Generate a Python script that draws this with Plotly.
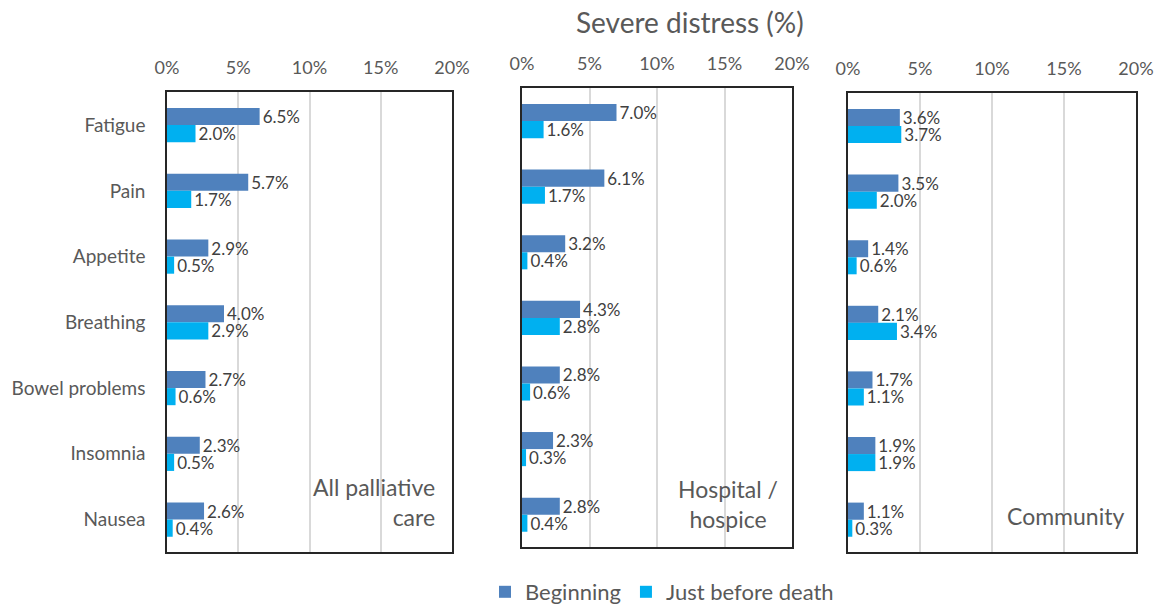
import plotly.graph_objects as go

categories = ["Fatigue", "Pain", "Appetite", "Breathing", "Bowel problems", "Insomnia", "Nausea"]
panels = ["All palliative<br>care", "Hospital /<br>hospice", "Community"]

all_beginning = [6.5, 5.7, 2.9, 4.0, 2.7, 2.3, 2.6]
all_before_death = [2.0, 1.7, 0.5, 2.9, 0.6, 0.5, 0.4]
hosp_beginning = [7.0, 6.1, 3.2, 4.3, 2.8, 2.3, 2.8]
hosp_before_death = [1.6, 1.7, 0.4, 2.8, 0.6, 0.3, 0.4]
comm_beginning = [3.6, 3.5, 1.4, 2.1, 1.7, 1.9, 1.1]
comm_before_death = [3.7, 2.0, 0.6, 3.4, 1.1, 1.9, 0.3]

x_ticks = [0, 5, 10, 15, 20]

W, H = 1162, 613
C_BEG = "#4F81BD"
C_JBD = "#00B0F0"
FONT = "Lato, 'Open Sans', sans-serif"
TXT = "#404040"
TICK = "#595959"


def px(x):
    return x / W


def py(y):
    return 1 - y / H


# panel boxes in window pixels (left, right, top, bottom)
boxes = [(167, 452, 93, 557), (522, 792, 89, 552), (848, 1136, 94, 557)]
data = [(all_beginning, all_before_death), (hosp_beginning, hosp_before_death), (comm_beginning, comm_before_death)]

fig = go.Figure()
layout = {}
for i, ((l, r, t, b), (beg, jbd)) in enumerate(zip(boxes, data)):
    n = "" if i == 0 else str(i + 1)
    xa, ya = "x" + n, "y" + n
    for name, vals, col in [("Beginning", beg, C_BEG), ("Just before death", jbd, C_JBD)]:
        fig.add_trace(go.Bar(
            x=vals, y=categories, orientation="h", name=name,
            marker=dict(color=col, line=dict(width=0)),
            text=[f"{v:.1f}%" for v in vals], textposition="outside",
            textfont=dict(color=TXT, size=17, family=FONT),
            constraintext="none", cliponaxis=False,
            xaxis=xa, yaxis=ya, showlegend=(i == 0),
        ))
    layout["xaxis" + n] = dict(
        domain=[px(l), px(r)], range=[0, 20], tickvals=x_ticks,
        ticktext=[f"{v}%" for v in x_ticks], side="top", anchor=ya,
        showgrid=True, gridcolor="#D9D9D9", gridwidth=1.5, zeroline=False,
        showline=True, mirror=True, linecolor="#262626", linewidth=1.5,
        ticks="outside", ticklen=9, tickcolor="rgba(0,0,0,0)",
        tickfont=dict(size=18, color=TICK, family=FONT), fixedrange=True,
        automargin=False,
    )
    layout["yaxis" + n] = dict(
        domain=[py(b), py(t)], anchor=xa, autorange="reversed",
        showline=True, mirror=True, linecolor="#262626", linewidth=1.5,
        showticklabels=(i == 0), ticks="outside", ticklen=16,
        tickcolor="rgba(0,0,0,0)", showgrid=False,
        tickfont=dict(size=19, color=TICK, family=FONT),
        automargin=False, fixedrange=True,
    )

fig.update_layout(**layout)

annotations = [
    dict(text="Severe distress (%)", x=px(690), y=py(22), xref="paper", yref="paper",
         xanchor="center", yanchor="middle", showarrow=False,
         font=dict(size=28, color=TICK, family=FONT)),
    dict(text=panels[0], x=px(437), y=py(506), xref="paper", yref="paper",
         xanchor="right", yanchor="middle", align="right", showarrow=False,
         font=dict(size=23, color=TICK, family=FONT)),
    dict(text=panels[1], x=px(728), y=py(508), xref="paper", yref="paper",
         xanchor="center", yanchor="middle", align="center", showarrow=False,
         font=dict(size=23, color=TICK, family=FONT)),
    dict(text=panels[2], x=px(1065), y=py(520), xref="paper", yref="paper",
         xanchor="center", yanchor="middle", showarrow=False,
         font=dict(size=23, color=TICK, family=FONT)),
]

fig.update_layout(
    width=W, height=H, margin=dict(l=0, r=0, t=0, b=0),
    paper_bgcolor="white", plot_bgcolor="white",
    barmode="group", bargap=0.48, bargroupgap=0,
    annotations=annotations,
    legend=dict(orientation="h", x=px(662), y=py(597), xanchor="center", yanchor="middle",
                font=dict(size=22, color=TICK, family=FONT), itemwidth=30,
                traceorder="normal"),
    font=dict(family=FONT, color=TICK),
)

# remove the browser's default 8px page margin so the figure fills the window exactly
post = """
var st = document.createElement('style');
st.textContent = 'html,body{margin:0;padding:0;overflow:hidden;width:1162px;height:613px;}';
document.head.appendChild(st);
"""

fig.write_html("out.html", post_script=post, config={"displayModeBar": False})
